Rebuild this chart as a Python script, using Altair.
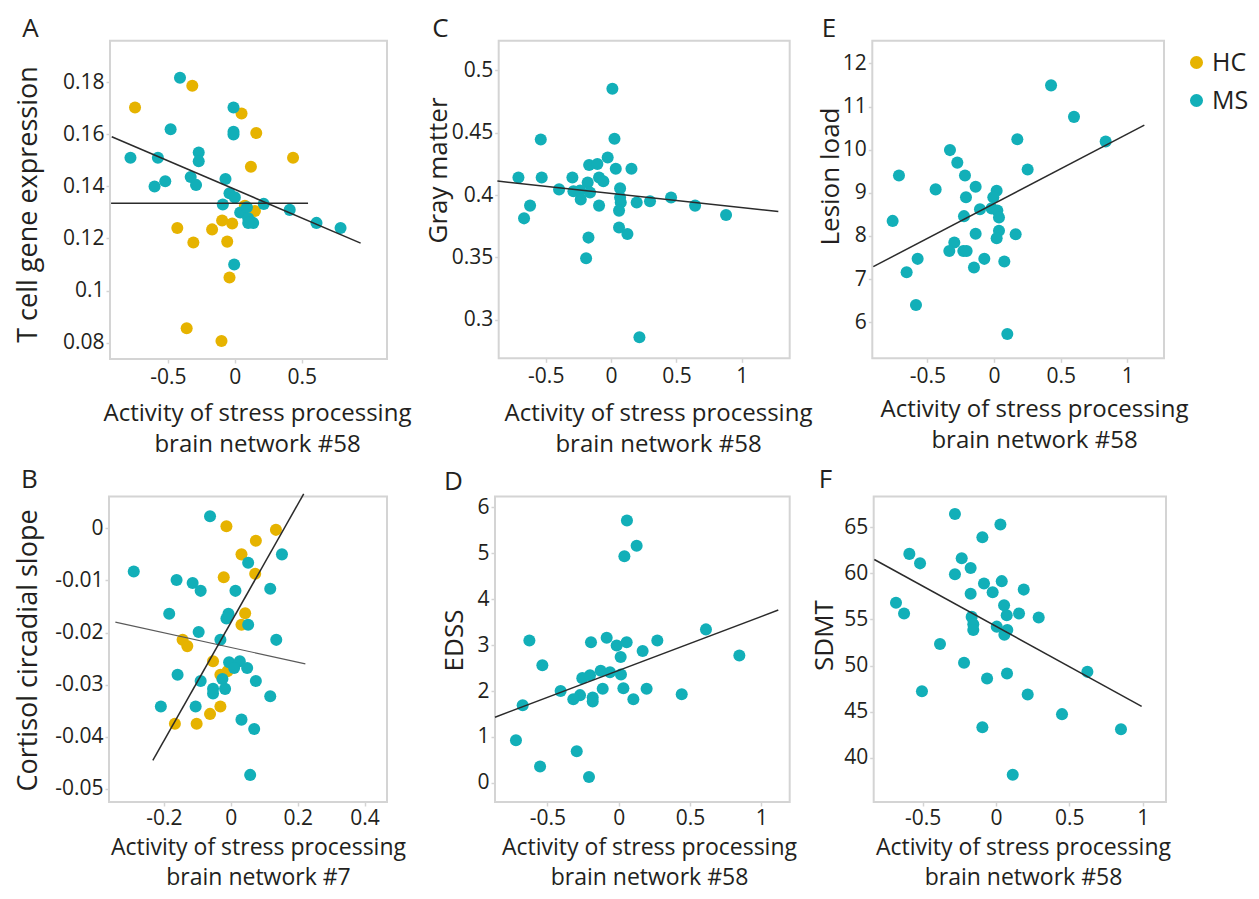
import altair as alt
import pandas as pd

FONT = "Open Sans"
INK = "#231f20"
HC_COL = "#e6b300"
MS_COL = "#12afb8"
FRAME = "#d4d4d4"
LINE = "#2b2b2b"
LINE_LIGHT = "#5a5a5a"

W, H = 1243, 883

GROUPS = ["HC", "MS"]
X_TITLE_58 = ["Activity of stress processing", "brain network #58"]
X_TITLE_7 = ["Activity of stress processing", "brain network #7"]

# ---------------- Panel A: T cell gene expression ----------------
A_HC_X = [-0.746, -0.318, 0.05, 0.16, 0.435, 0.12, -0.43, -0.31, -0.17, -0.095, -0.02,
          -0.057, -0.04, -0.36, -0.10, 0.15, 0.075]
A_HC_Y = [0.1703, 0.1787, 0.168, 0.1605, 0.151, 0.1476, 0.124, 0.1185, 0.1235, 0.1269,
          0.1258, 0.1188, 0.105, 0.0855, 0.0806, 0.1306, 0.1326]
A_MS_X = [-0.41, -0.48, -0.78, -0.575, -0.60, -0.52, -0.27, -0.27, -0.33, -0.29, -0.01,
          -0.01, -0.01, -0.07, -0.04, 0.0, -0.09, 0.04, 0.09, 0.10, 0.137, 0.10, 0.216,
          0.41, 0.61, 0.79, -0.005]
A_MS_Y = [0.1818, 0.162, 0.151, 0.151, 0.140, 0.142, 0.153, 0.1497, 0.1436, 0.1406,
          0.1703, 0.161, 0.160, 0.1429, 0.1374, 0.1358, 0.1331, 0.130, 0.132, 0.1278,
          0.126, 0.126, 0.1333, 0.131, 0.126, 0.124, 0.110]
A_FIT1_X = [-0.92, 0.94]
A_FIT1_Y = [0.1591, 0.1182]
A_FIT2_X = [-0.925, 0.547]
A_FIT2_Y = [0.1335, 0.1335]
A_XDOM = [-0.933, 1.137]
A_YDOM = [0.0737, 0.196]
A_XTICKS = [-0.5, 0, 0.5]
A_YTICKS = [0.08, 0.1, 0.12, 0.14, 0.16, 0.18]

# ---------------- Panel B: Cortisol circadial slope ----------------
B_HC_X = [-0.013, 0.135, 0.075, 0.032, 0.073, -0.021, 0.043, 0.032, -0.144, -0.13,
          -0.053, -0.031, -0.01, -0.031, -0.062, -0.167, -0.102]
B_HC_Y = [0.0004, -0.0003, -0.0024, -0.005, -0.0087, -0.0094, -0.0163, -0.0185, -0.0214,
          -0.0226, -0.0255, -0.0281, -0.0274, -0.0342, -0.0356, -0.0375, -0.0375]
B_MS_X = [-0.062, -0.29, -0.162, -0.114, -0.09, 0.014, 0.052, 0.153, 0.118, -0.184,
          -0.007, -0.013, 0.052, -0.096, -0.031, 0.136, -0.005, 0.027, 0.01, 0.049,
          -0.159, -0.09, 0.075, -0.025, -0.053, -0.017, -0.053, 0.118, -0.209, -0.105,
          0.032, 0.07, 0.058]
B_MS_Y = [0.0023, -0.0083, -0.0099, -0.0105, -0.012, -0.012, -0.0066, -0.005, -0.0116,
          -0.0164, -0.0164, -0.0173, -0.0185, -0.0199, -0.0214, -0.0214, -0.0257, -0.0255,
          -0.0268, -0.0268, -0.0281, -0.0293, -0.0293, -0.0289, -0.0308, -0.0308, -0.0317,
          -0.0322, -0.0342, -0.0342, -0.0367, -0.0385, -0.0473]
B_FIT1_X = [-0.233, 0.218]
B_FIT1_Y = [-0.0445, 0.0066]
B_FIT2_X = [-0.345, 0.223]
B_FIT2_Y = [-0.018, -0.026]
B_XDOM = [-0.364, 0.467]
B_YDOM = [-0.0525, 0.0061]
B_XTICKS = [-0.2, 0, 0.2, 0.4]
B_YTICKS = [-0.05, -0.04, -0.03, -0.02, -0.01, 0]

# ---------------- Panel C: Gray matter ----------------
C_MS_X = [0.01, -0.538, 0.026, -0.026, -0.168, -0.105, 0.036, 0.156, -0.709, -0.531,
          -0.296, -0.092, -0.059, -0.179, -0.398, 0.069, -0.288, -0.237, -0.161, -0.232,
          0.069, 0.074, 0.196, 0.298, 0.459, 0.643, 0.88, -0.62, -0.666, -0.092, 0.061,
          0.061, 0.125, -0.173, -0.191, 0.217]
C_MS_Y = [0.485, 0.4445, 0.445, 0.430, 0.424, 0.4248, 0.421, 0.421, 0.414, 0.414, 0.414,
          0.414, 0.411, 0.410, 0.4045, 0.4053, 0.403, 0.4035, 0.402, 0.3965, 0.398, 0.394,
          0.394, 0.395, 0.398, 0.3915, 0.384, 0.3915, 0.3813, 0.3915, 0.3875, 0.374,
          0.3688, 0.3659, 0.3493, 0.2861]
C_FIT_X = [-0.87, 1.28]
C_FIT_Y = [0.4112, 0.3867]
C_XDOM = [-0.86, 1.367]
C_YDOM = [0.2693, 0.5235]
C_XTICKS = [-0.5, 0, 0.5, 1]
C_YTICKS = [0.3, 0.35, 0.4, 0.45, 0.5]

# ---------------- Panel D: EDSS ----------------
D_MS_X = [0.058, 0.126, 0.04, 0.612, 0.846, 0.271, -0.626, -0.194, -0.084, -0.014, 0.056,
          0.014, 0.168, -0.535, -0.255, -0.201, -0.126, -0.061, 0.016, -0.112, 0.033,
          0.196, -0.407, -0.271, -0.318, -0.182, -0.182, 0.103, 0.442, -0.673, -0.72,
          -0.294, -0.551, -0.208]
D_MS_Y = [5.71, 5.16, 4.93, 3.34, 2.77, 3.10, 3.10, 3.06, 3.16, 2.99, 3.06, 2.74, 2.87,
          2.56, 2.28, 2.34, 2.44, 2.41, 2.36, 2.05, 2.06, 2.05, 2.0, 1.91, 1.82, 1.86,
          1.77, 1.82, 1.93, 1.69, 0.93, 0.69, 0.36, 0.13]
D_FIT_X = [-0.867, 1.119]
D_FIT_Y = [1.43, 3.76]
D_XDOM = [-0.867, 1.199]
D_YDOM = [-0.414, 6.23]
D_XTICKS = [-0.5, 0, 0.5, 1]
D_YTICKS = [0, 1, 2, 3, 4, 5, 6]

# ---------------- Panel E: Lesion load ----------------
E_MS_X = [0.428, 0.60, 0.175, 0.8375, 0.2525, -0.33, -0.275, -0.7125, -0.2175, -0.1375,
          -0.4375, 0.02, -0.005, -0.21, -0.105, -0.0175, 0.025, 0.0375, -0.225, -0.76,
          0.0375, 0.02, 0.1625, -0.1375, -0.2975, -0.335, -0.23, -0.205, -0.5725,
          -0.0725, 0.0775, -0.15, -0.655, -0.585, 0.10]
E_MS_Y = [11.49, 10.76, 10.24, 10.19, 9.54, 9.99, 9.70, 9.40, 9.40, 9.14, 9.08, 9.05,
          8.90, 8.90, 8.62, 8.64, 8.59, 8.43, 8.46, 8.35, 8.12, 7.95, 8.04, 8.05, 7.85,
          7.65, 7.65, 7.65, 7.47, 7.47, 7.41, 7.27, 7.16, 6.40, 5.73]
E_FIT_X = [-0.905, 1.1275]
E_FIT_Y = [7.29, 10.57]
E_XDOM = [-0.9125, 1.275]
E_YDOM = [5.166, 12.525]
E_XTICKS = [-0.5, 0, 0.5, 1]
E_YTICKS = [6, 7, 8, 9, 10, 11, 12]

# ---------------- Panel F: SDMT ----------------
F_MS_X = [-0.28, 0.03, -0.093, -0.591, -0.518, -0.234, -0.173, -0.28, -0.082, 0.039,
          0.189, -0.023, -0.173, 0.055, 0.073, 0.157, 0.291, -0.682, -0.627, -0.166,
          -0.155, -0.155, 0.005, 0.077, 0.057, -0.382, -0.218, 0.075, 0.623, -0.061,
          -0.505, 0.216, 0.45, -0.093, 0.852, 0.114]
F_MS_Y = [66.46, 65.32, 63.93, 62.12, 61.09, 61.65, 60.59, 59.91, 58.91, 59.16, 58.24,
          57.95, 57.78, 56.53, 55.46, 55.64, 55.21, 56.81, 55.64, 55.28, 54.47, 53.86,
          54.22, 53.86, 53.33, 52.33, 50.30, 49.13, 49.31, 48.59, 47.21, 46.85, 44.72,
          43.29, 43.08, 38.13]
F_FIT_X = [-0.83, 0.993]
F_FIT_Y = [61.51, 45.57]
F_XDOM = [-0.834, 1.159]
F_YDOM = [35.18, 68.35]
F_XTICKS = [-0.5, 0, 0.5, 1]
F_YTICKS = [40, 45, 50, 55, 60, 65]

COLOR = alt.Color(
    "group:N",
    title=None,
    scale=alt.Scale(domain=GROUPS, range=[HC_COL, MS_COL]),
    legend=alt.Legend(
        orient="none", legendX=1176, legendY=42, padding=0,
        labelFontSize=25, labelFont=FONT, labelColor=INK,
        symbolType="circle", symbolSize=170, symbolStrokeWidth=0,
        rowPadding=12, labelOffset=3,
    ),
)

LABEL_EXPR = "toString(datum.value)"


def points_frame(hx, hy, mx, my):
    rows = [{"x": a, "y": b, "group": "HC"} for a, b in zip(hx, hy)]
    rows += [{"x": a, "y": b, "group": "MS"} for a, b in zip(mx, my)]
    return pd.DataFrame(rows)


def panel(pts, fits, xdom, ydom, xr, yr, xticks, yticks,
          ytitle, ytitle_x, ytitle_y, ytitle_size,
          xtitle, xtitle_x, xtitle_dy, xtitle_size, xtitle_lh, xlabel_pad,
          letter, letter_x, letter_y):
    xs = alt.Scale(domain=xdom, range=xr, nice=False, zero=False)
    ys = alt.Scale(domain=ydom, range=yr, nice=False, zero=False)

    x_axis = alt.Axis(
        orient="bottom", offset=yr[0] - H, values=xticks, labelExpr=LABEL_EXPR,
        labelPadding=xlabel_pad, title=xtitle, titleFontSize=xtitle_size,
        titleX=xtitle_x, titleY=xtitle_dy, titleAngle=0, titleAlign="center",
        titleBaseline="alphabetic", titleLineHeight=xtitle_lh,
    )
    y_axis = alt.Axis(
        orient="left", offset=-xr[0], values=yticks, labelExpr=LABEL_EXPR,
        labelPadding=2, title=ytitle, titleFontSize=ytitle_size,
        titleX=ytitle_x - xr[0], titleY=ytitle_y, titleAngle=270,
        titleAlign="center", titleBaseline="alphabetic",
    )
    letter_axis = alt.Axis(
        orient="top", offset=0, labels=False, ticks=False, domain=False,
        title=letter, titleFontSize=26, titleX=letter_x, titleY=letter_y,
        titleAngle=0, titleAlign="center", titleBaseline="alphabetic",
    )

    box = pd.DataFrame({"x0": [xdom[0]], "x1": [xdom[1]], "y0": [ydom[0]], "y1": [ydom[1]]})
    layers = [
        alt.Chart(box).mark_rect(fillOpacity=0, stroke=FRAME, strokeWidth=2).encode(
            x=alt.X("x0:Q", scale=xs, axis=letter_axis),
            x2="x1",
            y=alt.Y("y0:Q", scale=ys, axis=None),
            y2="y1",
        ),
        alt.Chart(pts).mark_circle(size=145, opacity=1).encode(
            x=alt.X("x:Q", scale=xs, axis=x_axis),
            y=alt.Y("y:Q", scale=ys, axis=y_axis),
            color=COLOR,
        ),
    ]
    for fx, fy, col, sw in fits:
        layers.append(
            alt.Chart(pd.DataFrame({"x": fx, "y": fy})).mark_line(color=col, strokeWidth=sw).encode(
                x=alt.X("x:Q", scale=xs, axis=None),
                y=alt.Y("y:Q", scale=ys, axis=None),
            )
        )
    return layers


ROW2_Y = [794, 488.5]

all_layers = []
all_layers += panel(
    points_frame(A_HC_X, A_HC_Y, A_MS_X, A_MS_Y),
    [(A_FIT2_X, A_FIT2_Y, LINE, 1.5), (A_FIT1_X, A_FIT1_Y, LINE, 1.5)],
    A_XDOM, A_YDOM, [102, 379], [351, 32.7], A_XTICKS, A_YTICKS,
    "T cell gene expression", 28.5, 196, 27,
    X_TITLE_58, 249, 61.7, 24, 31, 3,
    "A", 22, 28,
)
all_layers += panel(
    points_frame(C_MS_X[:0], C_MS_Y[:0], C_MS_X, C_MS_Y),
    [(C_FIT_X, C_FIT_Y, LINE, 1.5)],
    C_XDOM, C_YDOM, [490.7, 781.7], [350.3, 32.7], C_XTICKS, C_YTICKS,
    "Gray matter", 438, 162, 26,
    X_TITLE_58, 650, 61.7, 24, 31, 3,
    "C", 432, 28,
)
all_layers += panel(
    points_frame(E_MS_X[:0], E_MS_Y[:0], E_MS_X, E_MS_Y),
    [(E_FIT_X, E_FIT_Y, LINE, 1.5)],
    E_XDOM, E_YDOM, [864.3, 1156], [350.3, 32.7], E_XTICKS, E_YTICKS,
    "Lesion load", 830, 168, 26,
    X_TITLE_58, 1026, 58.4, 24, 31, 3,
    "E", 820.5, 28,
)
all_layers += panel(
    points_frame(B_HC_X, B_HC_Y, B_MS_X, B_MS_Y),
    [(B_FIT2_X, B_FIT2_Y, LINE_LIGHT, 1.2), (B_FIT1_X, B_FIT1_Y, LINE, 1.5)],
    B_XDOM, B_YDOM, [101, 379], ROW2_Y, B_XTICKS, B_YTICKS,
    "Cortisol circadial slope", 28.5, 642, 27,
    X_TITLE_7, 250, 52.4, 23, 30, 1,
    "B", 21, 479,
)
all_layers += panel(
    points_frame(D_MS_X[:0], D_MS_Y[:0], D_MS_X, D_MS_Y),
    [(D_FIT_X, D_FIT_Y, LINE, 1.5)],
    D_XDOM, D_YDOM, [487, 781.7], ROW2_Y, D_XTICKS, D_YTICKS,
    "EDSS", 454.7, 632, 26,
    X_TITLE_58, 641, 52.4, 23, 30, 1,
    "D", 445, 481,
)
all_layers += panel(
    points_frame(F_MS_X[:0], F_MS_Y[:0], F_MS_X, F_MS_Y),
    [(F_FIT_X, F_FIT_Y, LINE, 1.5)],
    F_XDOM, F_YDOM, [865.7, 1158], ROW2_Y, F_XTICKS, F_YTICKS,
    "SDMT", 824.7, 627, 26,
    X_TITLE_58, 1015, 52.4, 23, 30, 1,
    "F", 817, 479,
)

chart = (
    alt.layer(*all_layers)
    .resolve_scale(x="independent", y="independent", color="shared")
    .properties(width=W, height=H, autosize=alt.AutoSizeParams(type="none"), padding=0)
    .configure_view(stroke=None)
    .configure_axis(
        grid=False, domain=False, ticks=True, tickColor=FRAME, tickSize=4, tickWidth=1.5,
        labelFont=FONT, labelFontSize=21, labelColor=INK, labelOverlap=False, labelFlush=False,
        titleFont=FONT, titleColor=INK, titleFontWeight="normal",
    )
)

chart.save("out.html", embed_options={"renderer": "svg", "actions": False})
